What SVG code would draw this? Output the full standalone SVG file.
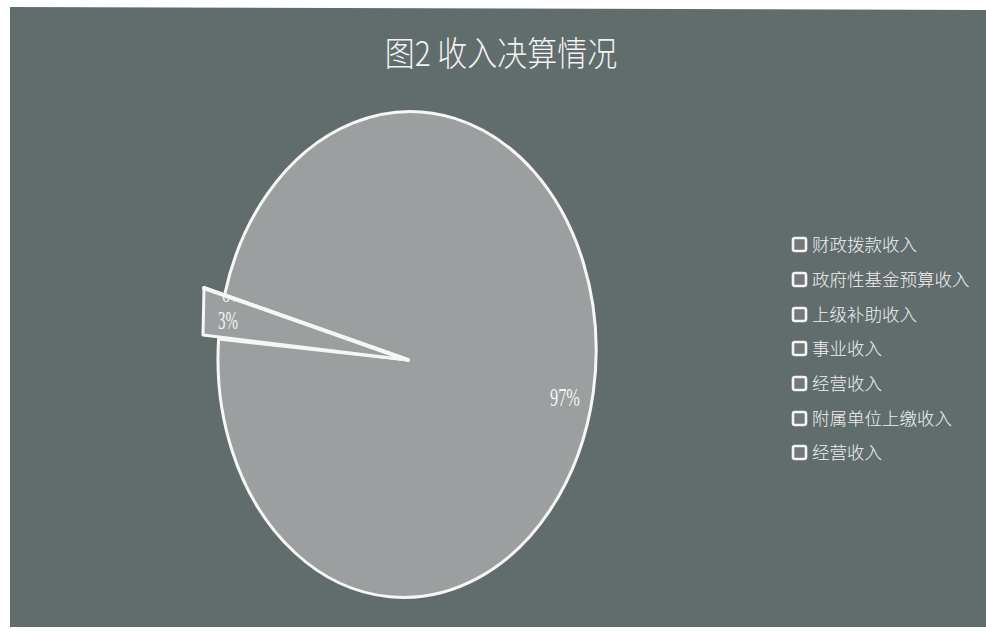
<svg xmlns="http://www.w3.org/2000/svg" width="986" height="631" viewBox="0 0 986 631">
  <defs>
    <clipPath id="wedgeClip">
      <path d="M 408 360 L 204 288 L 203 335 Z"/>
    </clipPath>
  </defs>
  <style>
    .bg { fill: #616d6d; }
    .slice { fill: #9c9f9f; stroke: #f6f6f4; stroke-width: 3; stroke-linejoin: round; }
    .title { font-family: "Noto Sans CJK SC", "Liberation Serif", serif; font-size: 30px; font-weight: 300; fill: #f2f2f2; }
    .pct { font-family: "Liberation Serif", serif; fill: #f4f4f4; }
    .leg { font-family: "Noto Sans CJK SC", "Liberation Serif", sans-serif; font-size: 17.5px; font-weight: 300; fill: #f0f0f0; }
    .key { fill: #737979; stroke: #f4f4f4; stroke-width: 2.6; }
  </style>
  <rect x="0" y="0" width="986" height="631" fill="#ffffff"/>
  <polygon class="bg" points="10,7 986,10 986,627 10,627"/>

  <g id="title">
    <text class="title" x="501" y="0" text-anchor="middle" transform="translate(0,66) scale(1,1.15)">图2 收入决算情况</text>
  </g>

  <g id="slice-97">
    <path class="slice" d="M 408 360 L 218.6 339 A 189 243 2 1 0 224.6 294.9 Z"/>
    <text class="pct" x="550" y="406" font-size="25" textLength="30" lengthAdjust="spacingAndGlyphs">97%</text>
  </g>

  <g id="slice-3">
    <path class="slice" d="M 408 360 L 204 288 L 203 335 Z"/>
    <g clip-path="url(#wedgeClip)">
      <text class="pct" x="222" y="302" font-size="18" textLength="22" lengthAdjust="spacingAndGlyphs">0%</text>
    </g>
    <line x1="204" y1="288" x2="408" y2="360" stroke="#f6f6f4" stroke-width="4" stroke-linecap="round"/>
    <text class="pct" x="218" y="328.5" font-size="25" textLength="20" lengthAdjust="spacingAndGlyphs">3%</text>
  </g>

  <g id="legend">
    <g id="legend-1"><rect class="key" x="793" y="238" width="13" height="13" rx="2"/><text class="leg" x="812" y="250.5">财政拨款收入</text></g>
    <g id="legend-2"><rect class="key" x="793" y="273" width="13" height="13" rx="2"/><text class="leg" x="812" y="285.5">政府性基金预算收入</text></g>
    <g id="legend-3"><rect class="key" x="793" y="308" width="13" height="13" rx="2"/><text class="leg" x="812" y="320.5">上级补助收入</text></g>
    <g id="legend-4"><rect class="key" x="793" y="342" width="13" height="13" rx="2"/><text class="leg" x="812" y="354.5">事业收入</text></g>
    <g id="legend-5"><rect class="key" x="793" y="377" width="13" height="13" rx="2"/><text class="leg" x="812" y="389.5">经营收入</text></g>
    <g id="legend-6"><rect class="key" x="793" y="412" width="13" height="13" rx="2"/><text class="leg" x="812" y="424.5">附属单位上缴收入</text></g>
    <g id="legend-7"><rect class="key" x="793" y="446" width="13" height="13" rx="2"/><text class="leg" x="812" y="458.5">经营收入</text></g>
  </g>

  <g id="connectors"></g>
</svg>
